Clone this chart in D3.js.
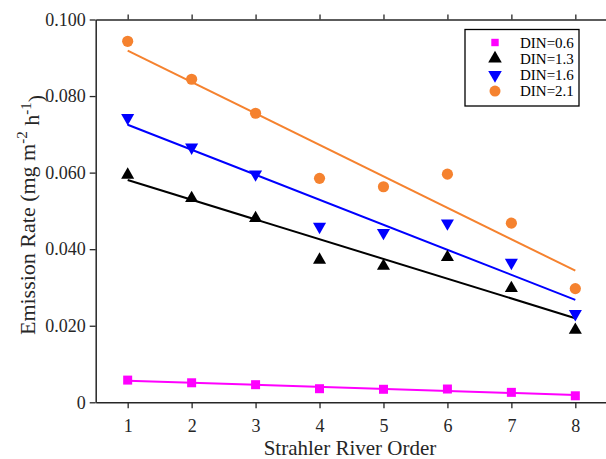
<!DOCTYPE html>
<html>
<head>
<meta charset="utf-8">
<script src="https://cdn.jsdelivr.net/npm/d3@7"></script>
<style>
  body { margin: 0; background: #fff; }
  svg { display: block; font-family: "Liberation Serif", "Times New Roman", serif; }
  svg text { font-family: "Liberation Serif", "Times New Roman", serif; }
</style>
</head>
<body>
<svg id="chart"></svg>
<script>
const width = 606, height = 459;

// data
const orders = [1, 2, 3, 4, 5, 6, 7, 8];
const din06 = [0.0058, 0.0051, 0.0046, 0.00355, 0.0034, 0.00347, 0.0026, 0.0017];
const din13 = [0.0594, 0.0533, 0.0481, 0.0372, 0.0356, 0.0379, 0.0298, 0.0189];
const din16 = [0.0743, 0.0666, 0.0596, 0.0459, 0.0443, 0.0468, 0.0365, 0.0231];
const din21 = [0.0943, 0.0844, 0.0755, 0.0585, 0.0563, 0.0596, 0.0468, 0.0297];
const yTicks = [0, 0.02, 0.04, 0.06, 0.08, 0.1];
const yTickLabels = ["0", "0.020", "0.040", "0.060", "0.080", "0.100"];

const series = [
  { name: "DIN=0.6", values: din06, color: "#ff00ff", symbol: d3.symbolSquare, size: 81, legSize: 55, rot: 0 },
  { name: "DIN=1.3", values: din13, color: "#000000", symbol: d3.symbolTriangle, size: 74, legSize: 80, rot: 0 },
  { name: "DIN=1.6", values: din16, color: "#0000ff", symbol: d3.symbolTriangle, size: 74, legSize: 80, rot: 180 },
  { name: "DIN=2.1", values: din21, color: "#f5822f", symbol: d3.symbolCircle, size: 98, legSize: 95, rot: 0 }
];

const margin = { left: 95.7, right: 607.3, top: 19.5, bottom: 402.3 };

const x = d3.scaleLinear().domain([0.5, 8.5]).range([margin.left, margin.right]);
const y = d3.scaleLinear().domain([0, 0.1]).range([margin.bottom, margin.top]);

const svg = d3.select("#chart").attr("width", width).attr("height", height);

// least squares fit
function fit(vals) {
  const mx = d3.mean(orders), my = d3.mean(vals);
  let num = 0, den = 0;
  orders.forEach((o, i) => { num += (o - mx) * (vals[i] - my); den += (o - mx) ** 2; });
  const b = num / den;
  return o => my + b * (o - mx);
}

const axisColor = "#262626";

// axes
const gx = svg.append("g").attr("transform", `translate(0,${margin.bottom})`)
  .call(d3.axisBottom(x).tickValues(orders).tickFormat(d3.format("d")).tickSizeInner(6).tickSizeOuter(0).tickPadding(11));
const gxTop = svg.append("g").attr("transform", `translate(0,${margin.top})`)
  .call(d3.axisTop(x).tickValues(orders).tickFormat("").tickSizeInner(5).tickSizeOuter(0));
const gy = svg.append("g").attr("transform", `translate(${margin.left},0)`)
  .call(d3.axisLeft(y).tickValues(yTicks).tickFormat((d, i) => yTickLabels[i]).tickSizeInner(6).tickSizeOuter(0).tickPadding(4));

[gx, gxTop, gy].forEach(g => {
  g.attr("font-family", null);
  g.select(".domain").attr("stroke", axisColor).attr("stroke-width", 1.5);
  g.selectAll(".tick line").attr("stroke", axisColor).attr("stroke-width", 1.3);
  g.selectAll(".tick text").attr("fill", "#262626").attr("font-size", 18);
});

// fit lines
series.forEach(s => {
  const f = fit(s.values);
  svg.append("line")
    .attr("x1", x(1)).attr("y1", y(f(1)))
    .attr("x2", x(8)).attr("y2", y(f(8)))
    .attr("stroke", s.color).attr("stroke-width", 2);
});

// markers
series.forEach(s => {
  svg.append("g").selectAll("path")
    .data(s.values)
    .join("path")
    .attr("d", d3.symbol().type(s.symbol).size(s.size))
    .attr("transform", (d, i) => `translate(${x(orders[i])},${y(d)}) rotate(${s.rot})`)
    .attr("fill", s.color);
});

// legend
const lg = svg.append("g");
lg.append("rect").attr("x", 465).attr("y", 29.5).attr("width", 114).attr("height", 76.5)
  .attr("fill", "#fff").attr("stroke", "#000").attr("stroke-width", 1.3);
series.forEach((s, i) => {
  const cy = 42.5 + i * 16.2;
  lg.append("path")
    .attr("d", d3.symbol().type(s.symbol).size(s.legSize))
    .attr("transform", `translate(495,${cy}) rotate(${s.rot})`)
    .attr("fill", s.color);
  lg.append("text").attr("x", 520).attr("y", cy).attr("dy", "0.35em")
    .attr("font-size", 15).attr("fill", "#000").text(s.name);
});

// axis titles
svg.append("text")
  .attr("x", 350).attr("y", 454.5)
  .attr("text-anchor", "middle").attr("font-size", 21).attr("fill", "#262626")
  .text("Strahler River Order");

const yt = svg.append("text")
  .attr("transform", `translate(35,215) rotate(-90)`)
  .attr("text-anchor", "middle").attr("font-size", 22).attr("fill", "#262626");
yt.append("tspan").text("Emission Rate (mg m");
yt.append("tspan").attr("dy", "-0.55em").attr("font-size", 15).text("-2");
yt.append("tspan").attr("dy", "0.55em").text(" h");
yt.append("tspan").attr("dy", "-0.55em").attr("font-size", 15).text("-1");
yt.append("tspan").attr("dy", "0.55em").text(")");
</script>
</body>
</html>
